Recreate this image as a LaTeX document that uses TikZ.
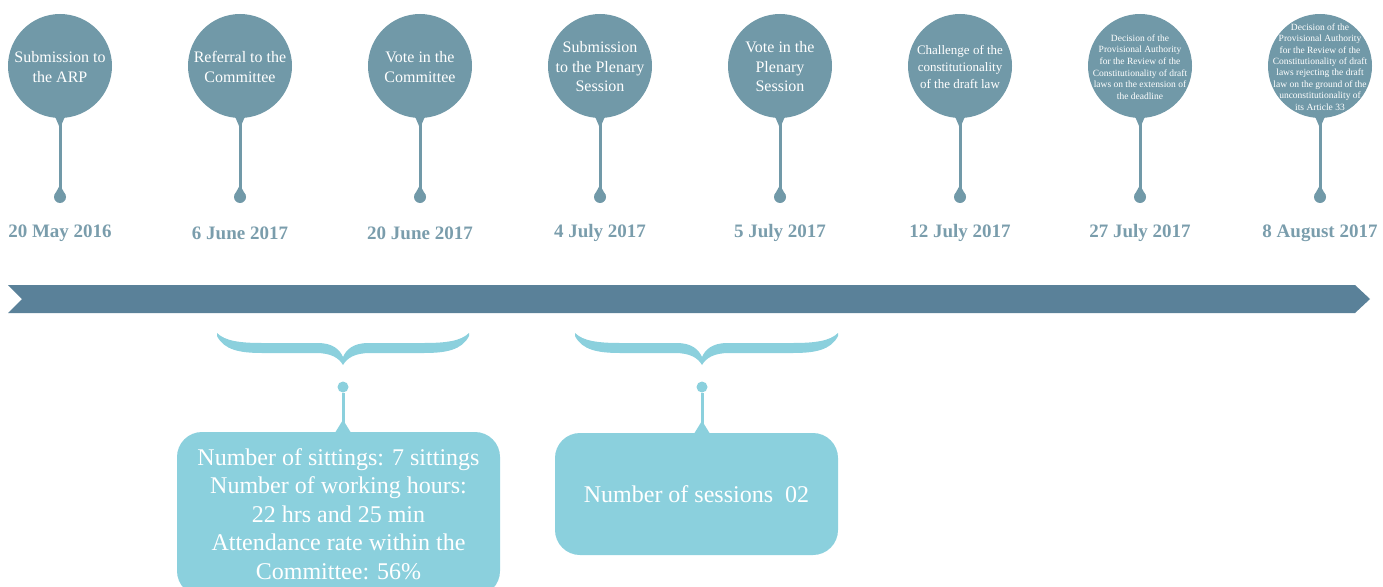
\documentclass[tikz,border=0pt]{standalone}
\usepackage{fontspec}
\setmainfont{Liberation Serif}
\usetikzlibrary{positioning}
\definecolor{stone}{HTML}{7199A8}
\definecolor{ribbon}{HTML}{5A8199}
\definecolor{sky}{HTML}{8BD0DD}
\definecolor{dateblue}{HTML}{7A9DAC}
\tikzset{
  event/.style={circle, fill=stone, minimum size=104pt, inner sep=0pt},
  eventtext/.style={align=center, text=white, inner sep=0pt},
  drop/.style={circle, fill=stone, minimum size=12pt, inner sep=0pt},
  stem/.style={draw=stone, line width=3pt},
  datetext/.style={font=\fontsize{19}{21}\selectfont\bfseries, text=dateblue},
  infobox/.style={rounded corners=25pt, fill=sky, text=white, align=center, inner sep=0pt, font=\fontsize{24}{28.5}\selectfont},
  knob/.style={circle, fill=sky, minimum size=11pt, inner sep=0pt},
  cord/.style={draw=sky, line width=3pt}
}
\begin{document}
\begin{tikzpicture}[x=1pt, y=-1pt]
  \useasboundingbox (0,0) rectangle (1383,586);
  \clip (0,0) rectangle (1383,586);
  % events on top
  \foreach \x/\txt/\when/\fs/\bs [count=\i] in {
    60/{Submission to\\the ARP}/{20 May 2016}/16/19.5,
    240/{Referral to the\\Committee}/{6 June 2017}/16/19.5,
    420/{Vote in the\\Committee}/{20 June 2017}/16/19.5,
    600/{Submission\\to the Plenary\\Session}/{4 July 2017}/16/19.5,
    780/{Vote in the\\Plenary\\Session}/{5 July 2017}/16/19.5,
    960/{Challenge of the\\constitutionality\\of the draft law}/{12 July 2017}/13/17,
    1140/{Decision of the\\Provisional Authority\\for the Review of the\\Constitutionality of draft\\laws on the extension of\\the deadline}/{27 July 2017}/9.5/11.6,
    1320/{Decision of the\\Provisional Authority\\for the Review of the\\Constitutionality of draft\\laws rejecting the draft\\law on the ground of the\\unconstitutionality of\\its Article 33}/{8 August 2017}/9.5/11.4}
  {
    \node[event] (e\i) at (\x,66) {};
    \node[eventtext, font=\fontsize{\fs}{\bs}\selectfont] (t\i) at (\x,67) {\txt};
    \node[drop] (d\i) at (\x,197) {};
    \draw[stem] (e\i) -- (d\i);
    \fill[stone] (e\i.south) ++(-6,-4) -- ++(6,14) -- ++(6,-14) -- cycle;
    \fill[stone] (d\i.center) ++(-5.5,-2) -- ++(5.5,-10) -- ++(5.5,10) -- cycle;
    \node[datetext] (w\i) at (\x,233) {\when};
  }
  % time ribbon
  \fill[ribbon] (8,285) -- (1355,285) -- (1370,299) -- (1355,313) -- (8,313) -- (22,299) -- cycle;
  % braces
  \foreach \xa/\xm/\xb in {217/343/469, 575/702/838}
    \fill[sky] (\xa,333) .. controls (\xa+8,341) and (\xa+23,343) .. (\xa+45,343)
      -- (\xm-25,343) .. controls (\xm-10,343) and (\xm-3,350) .. (\xm,357)
      .. controls (\xm+3,350) and (\xm+10,343) .. (\xm+25,343)
      -- (\xb-45,343) .. controls (\xb-23,343) and (\xb-8,341) .. (\xb,333)
      -- (\xb,336) .. controls (\xb-7,350) and (\xb-23,353) .. (\xb-45,353)
      -- (\xm+27,353) .. controls (\xm+12,353) and (\xm+4,358) .. (\xm,365)
      .. controls (\xm-4,358) and (\xm-12,353) .. (\xm-27,353)
      -- (\xa+45,353) .. controls (\xa+23,353) and (\xa+7,350) .. (\xa,336) -- cycle;
  % info boxes
  \node[infobox, minimum width=323pt, minimum height=164pt] (b1) at (338.5,514)
    {Number of sittings: 7 sittings\\Number of working hours:\\22 hrs and 25 min\\Attendance rate within the\\Committee: 56\%};
  \node[infobox, minimum width=283pt, minimum height=122pt] (b2) at (696.5,494)
    {Number of sessions\ \ 02};
  \node[knob] (k1) at (343,387) {};
  \node[knob] (k2) at (702,387) {};
  \draw[cord] (k1) -- (k1 |- b1.north);
  \draw[cord] (k2) -- (k2 |- b2.north);
  \fill[sky] (k1 |- b1.north) ++(-8,1) -- ++(8,-13) -- ++(8,13) -- cycle;
  \fill[sky] (k2 |- b2.north) ++(-8,1) -- ++(8,-13) -- ++(8,13) -- cycle;
\end{tikzpicture}
\end{document}
